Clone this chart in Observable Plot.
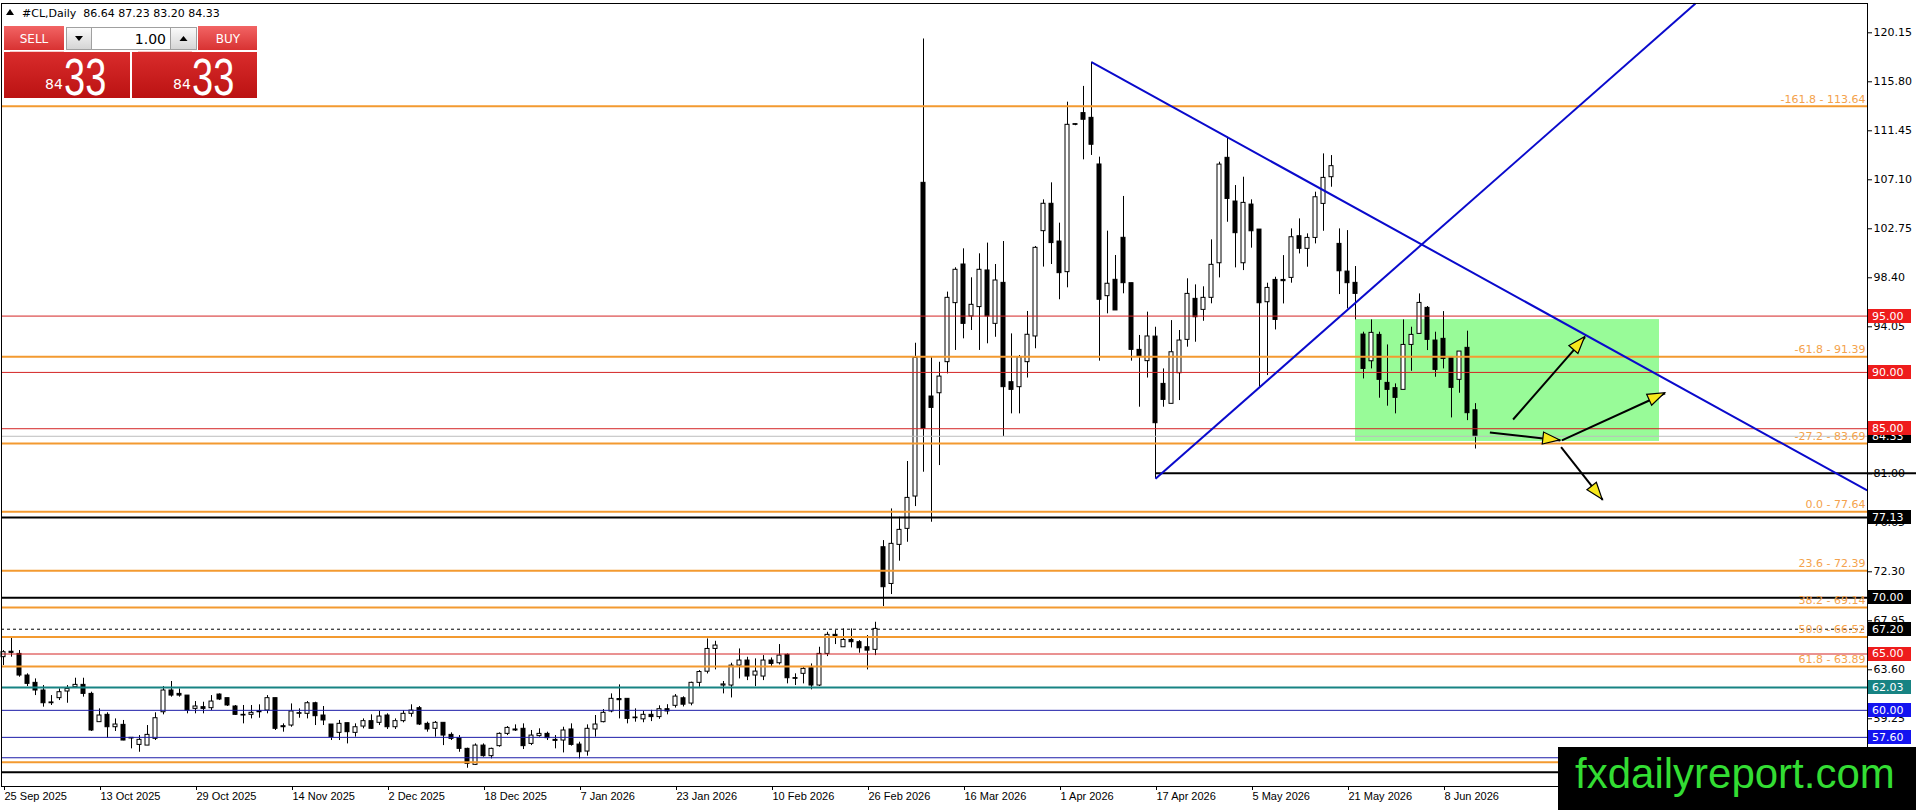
<!DOCTYPE html>
<html><head><meta charset="utf-8">
<script src="https://cdn.jsdelivr.net/npm/d3@7"></script>
<script src="https://cdn.jsdelivr.net/npm/@observablehq/plot@0.6"></script>
<style>
html,body{margin:0;padding:0;background:#fff;overflow:hidden;}
#wrap{position:relative;width:1916px;height:810px;}
#wrap svg{position:absolute;left:0;top:0;}
</style></head><body><div id="wrap"></div>
<script>
// ---------------- data ----------------
const symbol = "#CL", timeframe = "Daily";
const open = [64.72,65.20,65.01,63.09,62.44,61.76,60.70,61.08,61.67,62.05,
62.26,61.46,58.95,59.60,58.50,58.71,57.50,56.93,56.87,57.47,
59.83,61.76,61.46,61.31,60.13,60.28,60.19,61.40,61.08,60.34,
59.60,59.60,59.92,59.98,61.08,58.59,58.65,59.69,59.69,60.63,
59.54,58.74,58.00,58.86,58.00,58.56,59.04,58.89,59.54,58.50,
59.04,59.69,60.19,58.80,58.36,58.89,57.82,57.53,56.58,55.16,
56.87,55.93,56.82,57.91,58.30,58.36,57.02,57.71,57.91,57.38,
57.32,58.30,56.96,56.34,58.30,58.95,59.90,61.00,61.02,59.30,
59.20,59.60,59.40,60.10,60.40,61.07,60.60,62.44,63.43,65.45,
62.20,62.20,63.97,64.42,63.09,63.00,64.42,64.18,64.92,62.80,
63.24,63.74,62.20,65.01,66.70,65.60,66.25,66.05,65.60,65.37,
74.48,71.22,74.69,76.11,78.98,106.83,87.86,88.15,90.91,96.15,
99.58,94.97,95.80,99.05,94.31,97.95,89.13,88.69,90.91,93.19,
102.54,104.97,101.62,98.90,111.98,113.02,112.60,108.46,96.77,98.22,
101.95,97.92,92.00,91.00,93.18,88.98,87.21,89.93,92.89,96.53,
95.55,96.62,99.69,109.05,105.17,99.69,104.90,102.68,96.23,98.21,
98.21,98.39,102.09,100.97,101.94,104.96,107.33,101.41,98.95,97.95,
93.36,90.99,93.33,89.07,88.60,88.45,92.44,93.42,95.73,92.83,
92.98,91.26,89.34,92.18,86.64];
const high = [65.30,66.41,65.31,63.24,62.79,62.20,61.31,61.91,62.20,62.85,
62.85,61.61,60.13,59.78,59.24,59.10,57.53,57.76,58.65,59.78,
62.11,62.56,61.90,61.31,60.78,60.72,61.31,61.46,61.08,60.43,
60.43,60.43,60.49,61.31,61.08,58.80,60.57,60.13,60.78,60.72,
60.34,58.74,59.10,58.86,58.80,59.24,59.60,59.90,59.69,59.24,
59.98,60.49,60.34,58.95,59.01,58.89,58.00,57.76,56.64,57.02,
57.02,56.64,58.00,58.56,58.71,58.80,58.21,58.36,58.06,57.76,
58.50,58.80,57.17,58.71,59.54,60.07,61.46,62.26,61.02,60.13,
59.90,60.00,60.40,60.50,61.40,61.20,62.50,63.53,66.34,66.13,
62.56,64.18,65.45,64.71,64.57,64.86,64.65,65.84,65.01,63.24,
63.83,64.12,65.60,66.93,67.08,67.23,67.23,66.19,66.64,67.82,
75.07,77.88,77.14,82.09,92.59,119.60,91.35,90.90,97.13,99.29,
100.97,98.40,100.53,101.48,99.58,101.62,93.42,91.50,95.41,101.18,
105.32,106.83,103.25,113.99,112.05,115.39,117.54,109.11,102.54,100.38,
105.62,97.92,93.28,95.35,94.01,90.31,94.60,93.72,98.31,97.77,
97.60,101.77,108.66,110.88,106.59,107.33,105.32,102.68,97.92,98.45,
100.37,102.74,103.63,102.30,106.00,109.40,109.25,102.74,102.59,99.40,
93.57,94.66,93.57,92.44,88.98,94.66,94.01,96.97,95.85,93.57,
95.40,91.26,91.85,93.66,87.23];
const low = [63.98,64.72,62.94,62.11,61.31,60.28,60.43,60.87,60.63,62.05,
61.17,58.12,58.95,57.53,58.12,57.30,56.58,56.28,56.87,57.32,
59.60,61.17,61.17,59.69,59.69,59.69,59.98,60.87,60.34,59.54,
58.80,59.24,59.30,59.69,58.21,58.06,58.50,59.30,59.24,58.65,
58.65,57.32,57.32,57.02,57.62,58.36,58.30,58.65,58.30,58.30,
58.89,59.39,58.65,58.06,57.62,56.87,57.32,56.28,54.86,55.10,
55.84,55.69,56.73,57.76,58.12,56.52,56.87,57.62,57.32,56.58,
56.22,56.82,55.69,55.93,57.62,58.89,59.78,59.24,58.80,58.95,
58.90,59.00,59.20,59.60,60.20,60.30,60.40,62.05,63.23,63.59,
61.46,61.10,62.79,62.64,62.11,62.64,63.83,64.03,62.35,62.20,
62.35,61.82,62.11,64.77,65.84,65.60,65.54,65.07,63.59,64.86,
69.21,70.28,73.24,74.92,78.09,81.14,76.70,81.73,89.87,91.95,
92.98,93.72,91.95,92.54,93.12,84.30,86.32,86.32,89.50,92.10,
99.35,99.58,96.45,97.51,111.90,108.87,109.26,91.00,95.20,95.50,
96.98,91.00,86.91,89.50,80.55,86.91,87.21,87.50,92.24,92.68,
94.54,96.09,98.39,103.33,99.28,99.04,101.03,88.68,89.72,93.77,
96.08,97.92,100.52,99.34,101.41,102.53,106.44,96.91,95.64,94.66,
89.42,90.31,87.71,87.00,86.32,88.45,90.10,93.42,91.94,89.57,
90.31,85.96,88.15,85.72,83.20];
const close = [65.16,65.10,63.09,62.35,61.76,60.63,60.63,61.61,61.90,62.26,
61.46,58.21,59.54,58.50,58.74,57.32,57.47,57.38,57.82,59.30,
61.76,61.31,61.31,59.98,60.34,60.13,60.78,60.96,60.43,59.60,
59.54,59.78,59.83,61.08,58.36,58.50,59.90,59.72,60.63,59.48,
59.10,57.62,58.80,58.06,58.50,59.04,58.36,59.45,58.50,59.04,
59.69,59.98,58.74,58.30,58.89,57.76,57.47,56.58,55.25,56.87,
55.93,56.58,57.91,58.44,58.21,56.82,57.76,57.91,57.53,57.29,
58.21,56.93,56.28,58.36,58.74,59.78,61.02,60.90,59.24,59.24,
59.60,59.40,60.10,59.90,61.22,60.50,62.44,63.40,65.45,65.75,
62.30,63.97,64.42,63.00,63.44,64.42,64.12,64.86,62.85,62.77,
63.68,62.20,65.01,66.70,66.55,66.25,66.05,65.51,65.30,67.23,
70.93,74.78,76.02,78.86,91.29,84.99,86.85,89.63,96.62,99.11,
94.31,96.00,99.11,94.97,98.16,88.69,88.45,91.35,93.34,101.06,
104.97,101.48,98.81,111.98,111.95,112.43,110.21,96.45,97.87,95.50,
97.92,92.00,91.45,93.19,85.49,87.56,91.79,92.83,96.97,94.90,
96.62,99.55,108.45,105.40,102.36,105.05,102.53,96.14,97.50,94.66,
98.10,102.00,100.97,101.94,105.55,107.27,108.31,98.98,97.92,96.97,
90.31,93.51,89.34,88.45,87.74,92.44,93.33,96.17,92.89,90.22,
91.20,88.63,91.85,86.38,84.33];

const dateLabels = ["25 Sep 2025","13 Oct 2025","29 Oct 2025","14 Nov 2025","2 Dec 2025","18 Dec 2025",
  "7 Jan 2026","23 Jan 2026","10 Feb 2026","26 Feb 2026","16 Mar 2026","1 Apr 2026",
  "17 Apr 2026","5 May 2026","21 May 2026","8 Jun 2026"];
const barsPerLabel = 12;
const yTicks = [120.15,115.80,111.45,107.10,102.75,98.40,94.05,89.70,85.35,81.00,76.65,72.30,67.95,63.60,59.25,54.90];
const yRange = [53.238, 122.751];

const fibRatios = [-161.8, -61.8, -27.2, 0.0, 23.6, 38.2, 50.0, 61.8, 100.0];
const fibPrices = [113.64, 91.39, 83.69, 77.64, 72.39, 69.14, 66.52, 63.89, 55.39];
const redLevels = [95.00, 90.00, 85.00, 65.00];
const blackLevels = [77.13, 70.00, 54.51];
const dashedLevels = [67.20];
const tealLevels = [62.03];
const blueLevels = [60.00, 57.60, 55.79];
const lastPrice = 84.33;
const supportBar = 144, supportPrice = 81.05;
const zoneBars = [169, 207], zonePrices = [83.87, 94.69];
const trendFromBar = [136, 144], trendFromPrice = [117.54, 80.55];
const trendToBar = [232.96, 211.5], trendToPrice = [79.52, 122.75];
const arrowFromBar = [188.7, 185.8, 194.8, 194.7], arrowFromPrice = [85.82, 84.67, 83.96, 83.36];
const arrowToBar = [197.7, 194.6, 207.7, 199.9], arrowToPrice = [93.13, 83.96, 88.15, 78.69];
const lotSize = "1.00";
const brand = "fxdailyreport.com";

// ---------------- build ----------------
const W = 1916, H = 810, mL = 1, mR = 49, mT = 3, mB = 24;
const firstBarPx = 3, barPx = 8;
const logoTop = 747, logoLeft = 1558;
const xDomain = [(mL - firstBarPx) / barPx, (W - mR - firstBarPx) / barPx];
// price at the top edge of the brand box: texts below it are hidden in the reference
const yAt = d3.scaleLinear().domain(yRange).range([H - mB, mT]);
const hiddenBelow = yAt.invert(logoTop - 6);

const bars = open.map((o, i) => ({i, open: o, high: high[i], low: low[i], close: close[i]}));
const fibs = fibRatios.map((r, k) => ({price: fibPrices[k], label: `${r.toFixed(1)} - ${fibPrices[k].toFixed(2)}`}));
const trends = trendFromBar.map((b, k) => ({x1: b, y1: trendFromPrice[k], x2: trendToBar[k], y2: trendToPrice[k]}));
const arrows = arrowFromBar.map((b, k) => ({x1: b, y1: arrowFromPrice[k], x2: arrowToBar[k], y2: arrowToPrice[k]}));
const zone = [{x1: zoneBars[0], x2: zoneBars[1], y1: zonePrices[0], y2: zonePrices[1]}];

const C = {fib: "#f39a30", fibText: "#f4a24c", red: "#d42424", redTag: "#ee1c1c", black: "#000",
  teal: "#178383", blue: "#1c1ca8", blueTag: "#1414f0", gray: "#bdbdbd", trend: "#0a0acc", zone: "#98fb98"};

const tags = [
  {price: lastPrice, color: C.black},
  ...redLevels.map(p => ({price: p, color: C.redTag})),
  ...blackLevels.map(p => ({price: p, color: C.black})),
  ...dashedLevels.map(p => ({price: p, color: C.black})),
  ...tealLevels.map(p => ({price: p, color: C.teal})),
  ...blueLevels.map(p => ({price: p, color: C.blueTag}))
].filter(t => t.price > hiddenBelow);

// tick labels fully covered by a price tag in the reference are left blank
const tagPrices = tags.map(t => t.price);
const tickLabel = d => (d <= hiddenBelow || tagPrices.some(p => Math.abs(p - d) < 0.35)) ? "" : d.toFixed(2);

function arrowHeads(index, scales) {
  const g = d3.create("svg:g");
  for (const a of arrows) {
    const x1 = scales.x(a.x1), y1 = scales.y(a.y1), x2 = scales.x(a.x2), y2 = scales.y(a.y2);
    const ang = Math.atan2(y2 - y1, x2 - x1), L = 17, hw = 6;
    const bx = x2 - L * Math.cos(ang), by = y2 - L * Math.sin(ang);
    const px = -Math.sin(ang) * hw, py = Math.cos(ang) * hw;
    g.append("path").attr("d", `M${x2},${y2}L${bx + px},${by + py}L${bx - px},${by - py}Z`)
      .attr("fill", "#f7e81c").attr("stroke", "#000").attr("stroke-width", 1.2);
  }
  return g.node();
}

function priceTags(index, scales, values, dims) {
  const g = d3.create("svg:g").attr("text-anchor", "start");
  const x0 = dims.width - dims.marginRight + 1;
  for (const t of tags) {
    const y = scales.y(t.price);
    g.append("rect").attr("x", x0).attr("y", Math.round(y) - 7).attr("width", 43).attr("height", 14).attr("fill", t.color);
    g.append("text").attr("x", x0 + 4).attr("y", y).attr("dy", "0.36em").attr("fill", "#fff")
      .attr("text-anchor", "start").attr("font-family", "DejaVu Sans").attr("font-size", 11).text(t.price.toFixed(2));
  }
  return g.node();
}

const chart = Plot.plot({
  width: W, height: H, marginLeft: mL, marginRight: mR, marginTop: mT, marginBottom: mB,
  x: {domain: xDomain, axis: null},
  y: {domain: yRange, axis: null},
  style: {fontFamily: "DejaVu Sans", fontSize: "11px", background: "#fff", overflow: "visible"},
  marks: [
    Plot.rect(zone, {x1: "x1", x2: "x2", y1: "y1", y2: "y2", fill: C.zone}),
    Plot.ruleX(bars, {x: "i", y1: "low", y2: "high", stroke: "#000", strokeWidth: 1}),
    Plot.rect(bars, {x1: d => d.i - 0.25, x2: d => d.i + 0.25, y1: "open",
      y2: d => Math.abs(d.close - d.open) < 0.06 ? d.open + 0.06 : d.close,
      fill: d => d.close >= d.open ? "#fff" : "#000", stroke: "#000", strokeWidth: 1}),
    Plot.ruleY([lastPrice], {stroke: C.gray, strokeWidth: 1}),
    Plot.ruleY(fibs, {y: "price", stroke: C.fib, strokeWidth: 2}),
    Plot.ruleY(redLevels, {stroke: C.red, strokeWidth: 1}),
    Plot.ruleY(blackLevels, {stroke: C.black, strokeWidth: 2}),
    Plot.ruleY(dashedLevels, {stroke: C.black, strokeWidth: 1, strokeDasharray: "3,3"}),
    Plot.ruleY(tealLevels, {stroke: C.teal, strokeWidth: 2}),
    Plot.ruleY(blueLevels, {stroke: C.blue, strokeWidth: 1}),
    Plot.ruleY([{bar: supportBar, price: supportPrice}], {y: "price", x1: "bar", x2: () => xDomain[1] + 6.2, stroke: "#000", strokeWidth: 2}),
    Plot.link(trends, {x1: "x1", y1: "y1", x2: "x2", y2: "y2", stroke: C.trend, strokeWidth: 2}),
    Plot.link(arrows, {x1: "x1", y1: "y1", x2: "x2", y2: "y2", stroke: "#000", strokeWidth: 2}),
    arrowHeads,
    Plot.text(fibs.filter(f => f.price > hiddenBelow), {x: xDomain[1], y: "price", text: "label", textAnchor: "end", dx: -2, dy: -7,
      fill: C.fibText, fontSize: 11, fontFamily: "DejaVu Sans"}),
    Plot.axisY({anchor: "right", ticks: yTicks, tickFormat: tickLabel, tickSize: 4, tickPadding: 2,
      fontSize: 11, fontFamily: "DejaVu Sans", stroke: "#000"}),
    Plot.axisX({anchor: "bottom", ticks: dateLabels.map((_, k) => k * barsPerLabel),
      tickFormat: d => dateLabels[Math.round(d / barsPerLabel)], tickSize: 4, tickPadding: 2,
      textAnchor: "start", dx: 1, fontSize: 11, fontFamily: "Liberation Sans", stroke: "#000"}),
    Plot.frame({stroke: "#000", strokeWidth: 1}),
    priceTags
  ]
});
document.getElementById("wrap").appendChild(chart);

// ---------------- overlay: title, trade panel, brand ----------------
const ov = d3.select("#wrap").append("svg").attr("width", W).attr("height", H).style("pointer-events", "none");
const defs = ov.append("defs");
function grad(id, a, b) {
  const g = defs.append("linearGradient").attr("id", id).attr("x1", 0).attr("y1", 0).attr("x2", 0).attr("y2", 1);
  g.append("stop").attr("offset", "0%").attr("stop-color", a);
  g.append("stop").attr("offset", "100%").attr("stop-color", b);
}
grad("gBtn", "#f26464", "#d83232");
grad("gBig", "#d92c2c", "#bb1212");
grad("gSpin", "#fbfbfb", "#d4d4d4");

const n = close.length;
ov.append("path").attr("d", "M6,15L10,9L14,15Z").attr("fill", "#000");
ov.append("text").attr("x", 22).attr("y", 17).attr("font-family", "DejaVu Sans").attr("font-size", 11)
  .style("white-space", "pre")
  .text(`${symbol},${timeframe}  ${open[n-1].toFixed(2)} ${high[n-1].toFixed(2)} ${low[n-1].toFixed(2)} ${close[n-1].toFixed(2)}`);

ov.append("rect").attr("x", 4).attr("y", 26).attr("width", 60).attr("height", 24).attr("fill", "url(#gBtn)");
ov.append("text").attr("x", 34).attr("y", 43).attr("text-anchor", "middle").attr("fill", "#fff")
  .attr("font-family", "DejaVu Sans").attr("font-size", 12).text("SELL");
ov.append("rect").attr("x", 66.5).attr("y", 27.5).attr("width", 25).attr("height", 22).attr("fill", "url(#gSpin)").attr("stroke", "#a0a0a0");
ov.append("path").attr("d", "M75,36L83,36L79,41Z").attr("fill", "#000");
ov.append("rect").attr("x", 91.5).attr("y", 27.5).attr("width", 79).attr("height", 22).attr("fill", "#fff").attr("stroke", "#a0a0a0");
ov.append("text").attr("x", 166).attr("y", 44).attr("text-anchor", "end").attr("fill", "#000")
  .attr("font-family", "DejaVu Sans").attr("font-size", 14).text(lotSize);
ov.append("rect").attr("x", 170.5).attr("y", 27.5).attr("width", 26).attr("height", 22).attr("fill", "url(#gSpin)").attr("stroke", "#a0a0a0");
ov.append("path").attr("d", "M179.5,41L187.5,41L183.5,36Z").attr("fill", "#000");
ov.append("rect").attr("x", 198).attr("y", 26).attr("width", 59).attr("height", 24).attr("fill", "url(#gBtn)");
ov.append("text").attr("x", 228).attr("y", 43).attr("text-anchor", "middle").attr("fill", "#fff")
  .attr("font-family", "DejaVu Sans").attr("font-size", 12).text("BUY");

const [pBig, pSmall] = lastPrice.toFixed(2).split(".");
for (const box of [{x: 4, w: 126}, {x: 132, w: 125}]) {
  ov.append("rect").attr("x", box.x).attr("y", 52).attr("width", box.w).attr("height", 46).attr("fill", "url(#gBig)");
  ov.append("line").attr("x1", box.x + 6).attr("x2", box.x + 60).attr("y1", 51.5).attr("y2", 51.5).attr("stroke", "#f7c9c9");
  ov.append("text").attr("x", box.x + 41).attr("y", 89).attr("fill", "#fff")
    .attr("font-family", "DejaVu Sans").attr("font-size", 14).text(pBig);
  ov.append("text").attr("transform", `translate(${box.x + 60},95) scale(1,1.36)`).attr("fill", "#fff")
    .attr("font-family", "Liberation Sans").attr("font-size", 38).text(pSmall);
}

ov.append("rect").attr("x", logoLeft).attr("y", logoTop).attr("width", W - logoLeft).attr("height", H - logoTop).attr("fill", "#000");
ov.append("text").attr("x", 1575).attr("y", 788).attr("fill", "#33dd33")
  .attr("font-family", "Liberation Sans").attr("font-size", 42).text(brand);
</script>
</body></html>
